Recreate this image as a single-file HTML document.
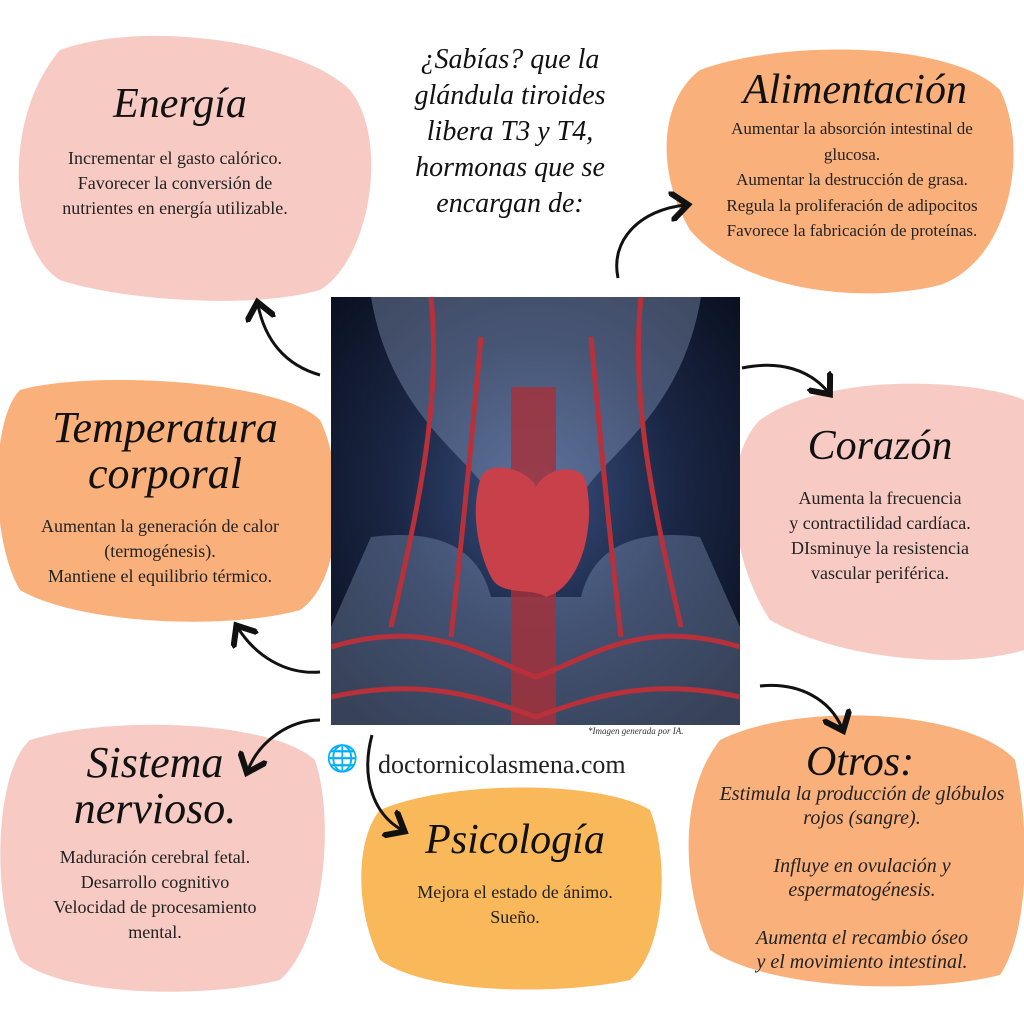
<!DOCTYPE html>
<html><head><meta charset="utf-8"><style>
body{margin:0;width:1024px;height:1024px;background:#fff;position:relative;overflow:hidden;font-family:"Liberation Serif",serif;color:#222}
.b{position:absolute}
.t{position:absolute;text-align:center;font-style:italic;color:#111;line-height:1.05}
.p{position:absolute;text-align:center;font-size:18px;line-height:25px;color:#222}
</style></head><body>
<svg class="b" style="left:0;top:0" width="1024" height="1024">
<path d="M60,50 C140,20 300,40 350,90 C390,140 370,260 320,290 C250,310 120,300 60,280 C10,250 0,120 60,50Z" fill="#f7cbc4"/>
<path d="M700,70 C780,40 950,40 1000,90 C1030,150 1010,260 940,285 C860,305 740,290 690,230 C655,170 660,100 700,70Z" fill="#f9b07a"/>
<path d="M20,390 C90,370 280,380 320,420 C345,470 345,580 300,610 C230,630 80,625 20,590 C-10,540 -10,420 20,390Z" fill="#f9b07a"/>
<path d="M760,420 C830,370 980,380 1024,400 L1024,650 C960,670 840,660 770,620 C730,560 720,460 760,420Z" fill="#f7cbc4"/>
<path d="M30,740 C110,715 270,720 315,760 C335,820 325,940 280,980 C200,1000 60,995 20,960 C-10,900 -5,770 30,740Z" fill="#f7cbc4"/>
<path d="M380,810 C450,780 600,780 650,810 C670,860 665,950 630,980 C560,995 430,995 380,960 C355,910 355,840 380,810Z" fill="#f9b85a"/>
<path d="M720,740 C800,700 970,710 1015,760 C1030,830 1030,930 1000,975 C920,995 770,990 710,950 C680,880 680,790 720,740Z" fill="#f9b07a"/>
<defs><marker id="a" markerWidth="10" markerHeight="10" refX="5" refY="5" orient="auto"><path d="M0,0 L6,5 L0,10" fill="none" stroke="#111" stroke-width="2"/></marker></defs>
<g fill="none" stroke="#111" stroke-width="3" marker-end="url(#a)">
<path d="M618,278 C610,240 640,210 685,205"/>
<path d="M320,375 C285,365 265,340 258,305"/>
<path d="M742,368 C780,360 810,370 828,392"/>
<path d="M320,672 C285,675 255,655 238,628"/>
<path d="M760,686 C800,682 830,700 842,728"/>
<path d="M320,720 C290,720 260,740 248,770"/>
<path d="M372,735 C360,780 375,815 402,830"/>
</g>
</svg>
<svg class="b" style="left:331px;top:297px" width="409" height="428">
<defs><radialGradient id="g" cx="50%" cy="45%" r="70%"><stop offset="0" stop-color="#3a5080"/><stop offset=".5" stop-color="#1a2644"/><stop offset="1" stop-color="#080e1c"/></radialGradient></defs>
<rect width="409" height="428" fill="url(#g)"/>
<path d="M40,0 C60,120 140,160 160,200 L250,200 C270,160 350,120 370,0Z" fill="#9fb0d0" opacity=".35"/>
<path d="M40,240 C120,230 150,260 160,300 L250,300 C260,260 290,230 369,240 L409,330 L409,428 L0,428 L0,330Z" fill="#8fa3c8" opacity=".35"/>
<rect x="180" y="90" width="45" height="338" fill="#a83038" opacity=".8"/>
<path d="M150,180 C160,160 200,175 205,190 C215,170 250,165 255,185 C265,230 250,290 215,300 C200,290 170,300 160,280 C145,250 140,210 150,180Z" fill="#c8404a"/>
<g stroke="#b8303a" stroke-width="5" fill="none">
<path d="M0,350 C100,320 150,360 205,380 C260,360 310,320 409,350"/>
<path d="M0,400 C90,380 150,400 205,420 C260,400 320,380 409,400"/>
<path d="M100,0 C110,100 90,200 60,330"/><path d="M310,0 C300,100 320,200 350,330"/>
<path d="M150,40 C140,150 130,250 120,340"/><path d="M260,40 C270,150 280,250 290,340"/>
</g>
</svg>
<div class="b" style="left:588px;top:726px;font-size:9px;font-style:italic;color:#333">*Imagen generada por IA.</div>
<div class="t" style="left:385px;top:42px;width:250px;font-size:28px;line-height:36px">¿Sabías? que la glándula tiroides libera T3 y T4, hormonas que se encargan de:</div>
<div class="t" style="left:60px;top:82px;width:240px;font-size:42px">Energía</div>
<div class="p" style="left:45px;top:146px;width:260px">Incrementar el gasto calórico.<br>Favorecer la conversión de nutrientes en energía utilizable.</div>
<div class="t" style="left:700px;top:68px;width:310px;font-size:42px">Alimentación</div>
<div class="p" style="left:712px;top:116px;width:280px;font-size:17px;line-height:25.5px">Aumentar la absorción intestinal de glucosa.<br>Aumentar la destrucción de grasa.<br>Regula la proliferación de adipocitos<br>Favorece la fabricación de proteínas.</div>
<div class="t" style="left:10px;top:405px;width:310px;font-size:44px">Temperatura corporal</div>
<div class="p" style="left:30px;top:514px;width:260px">Aumentan la generación de calor (termogénesis).<br>Mantiene el equilibrio térmico.</div>
<div class="t" style="left:760px;top:424px;width:240px;font-size:42px">Corazón</div>
<div class="p" style="left:740px;top:486px;width:280px">Aumenta la frecuencia<br>y contractilidad cardíaca.<br>DIsminuye la resistencia<br>vascular periférica.</div>
<div class="t" style="left:20px;top:740px;width:270px;font-size:44px">Sistema nervioso.</div>
<div class="p" style="left:25px;top:845px;width:260px">Maduración cerebral fetal.<br>Desarrollo cognitivo<br>Velocidad de procesamiento mental.</div>
<div class="t" style="left:390px;top:818px;width:250px;font-size:42px">Psicología</div>
<div class="p" style="left:370px;top:880px;width:290px">Mejora el estado de ánimo.<br>Sueño.</div>
<div class="t" style="left:760px;top:740px;width:200px;font-size:42px">Otros:</div>
<div class="p" style="left:712px;top:782px;width:300px;font-style:italic;font-size:20px;line-height:24px">Estimula la producción de glóbulos rojos (sangre).<br><br>Influye en ovulación y espermatogénesis.<br><br>Aumenta el recambio óseo<br>y el movimiento intestinal.</div>
<div class="b" style="left:326px;top:744px;font-size:26px">🌐</div>
<div class="b" style="left:378px;top:750px;font-size:26px;color:#222">doctornicolasmena.com</div>
</body></html>
